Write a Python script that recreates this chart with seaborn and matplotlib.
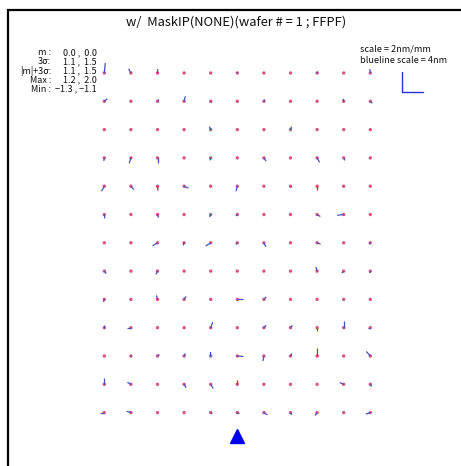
import numpy as np
import pandas as pd
import matplotlib
matplotlib.use("Agg")
import matplotlib.pyplot as plt
import seaborn as sns
from matplotlib.collections import LineCollection

sns.set_theme(style="white")
plt.rcParams["font.family"] = ["Noto Sans CJK JP", "DejaVu Sans"]

# Overlay error per shot (nm): 13 rows (top to bottom) x 11 columns (left to right)
dx = [
    [0.2, -0.45, 0.05, 0.0, 0.0, 0.05, 0.0, 0.0, 0.0, 0.0, -0.1],
    [0.6, 0.0, 0.0, 0.25, 0.0, 0.0, 0.0, 0.0, 0.0, -0.1, 0.4],
    [0.0, 0.0, 0.0, 0.0, -0.25, 0.0, 0.0, 0.2, 0.0, 0.0, 0.0],
    [-0.1, -0.35, 0.0, 0.0, -0.1, 0.0, 0.45, 0.0, 0.5, 0.0, 0.0],
    [-0.55, 0.6, 0.1, 0.85, 0.0, -0.25, 0.0, 0.0, 0.0, -0.1, 0.0],
    [0.1, 0.0, 0.2, 0.0, -0.2, -0.25, 0.0, 0.0, 0.65, -1.3, 0.0],
    [0.0, 0.0, -1.0, -0.2, -1.0, -0.3, 0.4, 0.0, 0.7, 0.0, -0.25],
    [0.4, 0.0, -0.3, 0.0, 0.0, 0.0, 0.0, 0.0, -0.25, -0.4, -0.1],
    [-0.15, 0.0, -0.2, 0.4, 0.0, 1.1, 0.45, 0.0, 0.0, 0.0, 0.0],
    [0.0, -0.85, 0.0, 0.0, 0.4, 0.0, 0.45, 0.4, 0.0, 0.0, -0.5],
    [0.0, -0.1, 0.4, 0.25, -0.05, 1.2, -0.2, 0.3, 0.0, 0.0, -0.8],
    [0.0, -0.7, 0.0, 0.4, 0.5, 0.0, 0.0, 0.0, 0.0, -0.8, 0.25],
    [-0.9, -0.85, 0.0, 0.0, 0.3, 0.45, 0.7, 0.25, -0.4, 0.0, -0.9],
]
dy = [
    [2.0, 0.85, 0.8, 0.0, 0.0, 0.2, 0.0, 0.0, 0.4, 0.0, 0.8],
    [0.5, 0.0, 0.5, 1.0, -0.1, 0.0, 0.5, 0.0, 0.0, 0.5, -0.4],
    [0.0, 0.0, 0.0, 0.0, 0.6, 0.0, 0.0, 0.6, 0.0, 0.0, 0.0],
    [-0.6, -1.1, -1.0, 0.0, -0.5, -0.1, -0.65, 0.0, -0.9, -0.4, 0.0],
    [-1.0, -0.65, -0.9, -0.4, 0.0, -1.0, 0.0, -0.1, -0.8, 0.1, 0.0],
    [-0.8, 0.0, -0.65, 0.0, -0.5, -0.3, 0.0, 0.0, -0.4, -0.15, 0.0],
    [0.0, 0.0, -0.6, -0.5, -0.65, -0.3, -0.8, 0.0, -0.25, 0.0, -0.25],
    [-0.5, 0.0, -0.65, 0.0, 0.0, 0.0, 0.0, 0.0, 0.8, -0.4, -0.4],
    [-0.5, 0.0, 0.8, 0.6, 0.0, 0.0, 0.5, 0.0, 0.0, 0.0, 0.0],
    [0.5, 0.0, 0.0, 0.0, 1.1, 0.0, 0.5, 0.45, -0.6, 1.4, 0.0],
    [0.0, 0.0, 0.3, 0.5, 0.8, -0.1, -1.0, 0.5, 1.6, 0.0, 0.9],
    [1.2, 0.4, 0.0, -0.7, -0.85, 0.85, 0.0, 0.0, 0.0, 0.35, -0.45],
    [0.0, 0.25, 0.0, 0.0, -0.2, -0.2, -0.45, -0.45, -0.6, 0.0, -0.3],
]

stat_labels = ["m :", "3σ:", "|m|+3σ:", "Max :", "Min :"]
stat_values = ["0.0 ,  0.0", "1.1 ,  1.5", "1.1 ,  1.5", "1.2 ,  2.0", "−1.3 , −1.1"]
title = "w/  MaskIP(NONE)(wafer # = 1 ; FFPF)"
scale_text = ["scale = 2nm/mm", "blueline scale = 4nm"]
blueline_nm = 4.0

# Layout (pixel space of the 461x466 canvas)
W, H = 461, 466
x0, pitch_x = 104.3, 26.6
y0, pitch_y = 73.0, 28.3
px_per_nm = 5.0

n_rows, n_cols = len(dx), len(dx[0])
rows, cols = np.meshgrid(np.arange(n_rows), np.arange(n_cols), indexing="ij")
df = pd.DataFrame({
    "x": (x0 + cols * pitch_x).ravel(),
    "y": (y0 + rows * pitch_y).ravel(),
    "dx": np.array(dx).ravel(),
    "dy": np.array(dy).ravel(),
})

fig = plt.figure(figsize=(W / 100, H / 100), dpi=100)
ax = fig.add_axes([0, 0, 1, 1])
ax.set_xlim(0, W)
ax.set_ylim(H, 0)
ax.axis("off")

# shot centres
sns.scatterplot(data=df, x="x", y="y", ax=ax, s=6, color="#d9557f",
                edgecolor="none", zorder=3, legend=False)

# error vectors (y positive = up)
segs = [[(r.x, r.y), (r.x + r.dx * px_per_nm, r.y - r.dy * px_per_nm)]
        for r in df.itertuples()]
ax.add_collection(LineCollection(segs, colors="#4450c0", linewidths=0.9, zorder=4))

# notch marker
ax.plot([df["x"].median()], [df["y"].max() + 23], marker="^", ms=10,
        color="#0000ee", zorder=5)

# blue scale bar
bx, by = 402, 92
L = blueline_nm * px_per_nm
ax.plot([bx, bx, bx + L + 1], [by - L, by, by], color="#2233dd", lw=1.0)

# frame
ax.plot([7.5, 7.5, W + 5], [H + 5, 9.5, 9.5], color="black", lw=1.6,
        solid_joinstyle="miter")

ax.text(236, 22, title, ha="center", va="center", fontsize=9.3, color="#111111")

for i, (lab, val) in enumerate(zip(stat_labels, stat_values)):
    yy = 52.5 + i * 9.2
    ax.text(51, yy, lab, ha="right", va="center", fontsize=6.5, color="#111111")
    ax.text(97, yy, val, ha="right", va="center", fontsize=6.5, color="#111111")

for i, t in enumerate(scale_text):
    ax.text(360, 49 + i * 11.5, t, ha="left", va="center", fontsize=6.6,
            color="#111111")

fig.savefig("out.png", dpi=100, facecolor="white")
